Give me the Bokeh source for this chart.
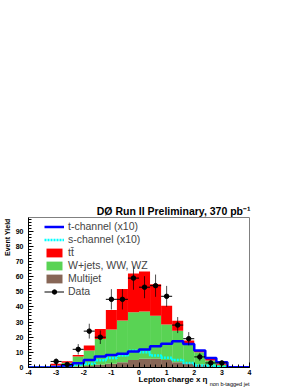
import math
from bokeh.plotting import figure
from bokeh.models import (Range1d, Legend, LegendItem, SingleIntervalTicker,
                          CustomJSTickFormatter, ColumnDataSource, Title)
from bokeh.embed import file_html
from bokeh.resources import INLINE

# ---- data ----
bin_centers = [-3.8, -3.4, -3.0, -2.6, -2.2, -1.8, -1.4, -1.0, -0.6, -0.2,
               0.2, 0.6, 1.0, 1.4, 1.8, 2.2, 2.6, 3.0, 3.4, 3.8]
bin_width = 0.4
multijet = [0.0, 0.0, 0.1, 0.3, 0.6, 1.0, 1.8, 2.4, 3.5, 5.0,
            5.7, 5.7, 5.0, 3.5, 2.8, 1.8, 1.1, 0.4, 0.1, 0.0]
wjets = [0.0, 0.0, 1.3, 2.8, 6.6, 10.2, 17.0, 22.6, 27.5, 31.4,
         31.3, 28.5, 23.3, 20.8, 13.4, 8.3, 3.5, 1.4, 0.2, 0.0]
ttbar = [0.0, 0.0, 1.1, 1.1, 1.1, 3.3, 6.6, 12.9, 20.8, 25.6,
         26.4, 20.8, 12.5, 6.6, 1.6, 1.1, 1.1, 0.6, 0.1, 0.0]
tchan_x10 = [0.0, 0.0, 0.4, 1.3, 2.8, 5.0, 7.2, 8.3, 9.0, 10.5,
             11.8, 14.0, 15.6, 17.3, 15.5, 11.2, 6.2, 3.4, 0.2, 0.2]
schan_x10 = [0.0, 0.0, 0.0, 0.3, 1.8, 2.4, 4.8, 6.3, 7.9, 11.0,
             10.0, 7.9, 6.4, 5.0, 2.9, 1.3, 1.1, 0.3, 0.0, 0.0]
data_counts = [0, 0, 4, 2, 12, 24, 20, 45, 45, 59,
               53, 54, 47, 28, 19, 7, 3, 3, 0, 0]

x_ticks_interval = 1
y_ticks_interval = 10

# ---- derived arrays ----
left = [c - bin_width / 2 for c in bin_centers]
right = [c + bin_width / 2 for c in bin_centers]
b0 = [0.0] * len(bin_centers)
t0 = multijet
t1 = [a + b for a, b in zip(t0, wjets)]
t2 = [a + b for a, b in zip(t1, ttbar)]
edges = left + [right[-1]]
tch_step = tchan_x10 + [tchan_x10[-1]]
sch_step = schan_x10 + [schan_x10[-1]]

dx, dy, de = [], [], []
for c, n in zip(bin_centers, data_counts):
    if n > 0:
        dx.append(c); dy.append(n); de.append(math.sqrt(n))
dsrc = ColumnDataSource(dict(
    x=dx, y=dy,
    x0=[x - bin_width / 2 for x in dx], x1=[x + bin_width / 2 for x in dx],
    ylo=[y - e for y, e in zip(dy, de)], yhi=[y + e for y, e in zip(dy, de)]))

FONT = "Liberation Sans"

p = figure(width=299, height=387, output_backend="svg", toolbar_location=None,
           x_range=Range1d(-4, 4), y_range=Range1d(0, 99),
           min_border_left=28, min_border_right=50, min_border_top=217,
           min_border_bottom=20)
p.grid.visible = False
p.background_fill_color = "white"
p.border_fill_color = "white"
p.outline_line_color = "#808080"
p.outline_line_width = 1

# main title (right aligned above frame)
p.title.text = "D\u00d8 Run II Preliminary, 370 pb\u207b\u00b9"
p.title.align = "right"
p.title.offset = -1
p.title.standoff = 2
p.title.text_font = FONT
p.title.text_font_style = "bold"
p.title.text_font_size = "10.5px"
p.title.text_color = "black"

r_mj = p.quad(left=left, right=right, bottom=b0, top=t0, fill_color="#876656",
              line_color=None)
r_wj = p.quad(left=left, right=right, bottom=t0, top=t1, fill_color="#59d354",
              line_color=None)
r_tt = p.quad(left=left, right=right, bottom=t1, top=t2, fill_color="#ff0000",
              line_color=None)
r_s = p.step(x=edges, y=sch_step, mode="after", line_color="#00ffff",
             line_width=2.5, line_dash="2 1")
r_t = p.step(x=edges, y=tch_step, mode="after", line_color="#0000ff",
             line_width=2.5)
r_eh = p.segment(x0="x0", y0="y", x1="x1", y1="y", source=dsrc,
                 line_color="black", line_width=1)
r_ev = p.segment(x0="x", y0="ylo", x1="x", y1="yhi", source=dsrc,
                 line_color="black", line_width=1, line_alpha=0.7)
r_d = p.scatter(x="x", y="y", source=dsrc, marker="circle", size=4.5,
                fill_color="black", line_color="black")

for ax in (p.xaxis[0], p.yaxis[0]):
    ax.major_tick_in = 5
    ax.major_tick_out = 0
    ax.minor_tick_in = 3
    ax.minor_tick_out = 0
    ax.axis_line_color = "black"
    ax.major_tick_line_color = "black"
    ax.minor_tick_line_color = "black"
    ax.major_label_text_font = FONT
    ax.major_label_text_font_style = "bold"
    ax.major_label_text_font_size = "7px"
    ax.major_label_text_color = "black"
    ax.formatter = CustomJSTickFormatter(code="return tick.toFixed(0);")
p.xaxis.ticker = SingleIntervalTicker(interval=x_ticks_interval, num_minor_ticks=5)
p.yaxis.ticker = SingleIntervalTicker(interval=y_ticks_interval, num_minor_ticks=5)
p.xaxis.major_label_standoff = 2
p.yaxis.major_label_standoff = 5

# y axis title, top aligned, left of the tick labels
yt = Title(text="Event Yield", align="right", offset=1, standoff=3,
           text_font=FONT, text_font_style="bold", text_font_size="7px",
           text_color="black")
p.add_layout(yt, "left")

# x axis title and its subscript, below the axis
xt = Title(text="Lepton charge x \u03b7", align="right", offset=42, standoff=-5,
           vertical_align="top",
           text_font=FONT, text_font_style="bold", text_font_size="8px",
           text_color="black")
p.add_layout(xt, "below")
xs = Title(text="non b-tagged jet", align="right", offset=0, standoff=-5.5,
           vertical_align="top",
           text_font=FONT, text_font_style="normal", text_font_size="5.5px",
           text_color="black")
p.add_layout(xs, "below")

legend = Legend(items=[
    LegendItem(label="t-channel (x10)", renderers=[r_t]),
    LegendItem(label="s-channel (x10)", renderers=[r_s]),
    LegendItem(label="tt\u0304", renderers=[r_tt]),
    LegendItem(label="W+jets, WW, WZ", renderers=[r_wj]),
    LegendItem(label="Multijet", renderers=[r_mj]),
    LegendItem(label="Data", renderers=[r_eh, r_d]),
], location=(16, 70), padding=0, margin=0, spacing=1, glyph_width=20,
    glyph_height=11, label_height=11, label_standoff=4,
    label_text_font=FONT, label_text_font_size="10.5px",
    background_fill_alpha=0, border_line_alpha=0)
p.add_layout(legend)

open("out.html", "w").write(file_html(p, INLINE))
